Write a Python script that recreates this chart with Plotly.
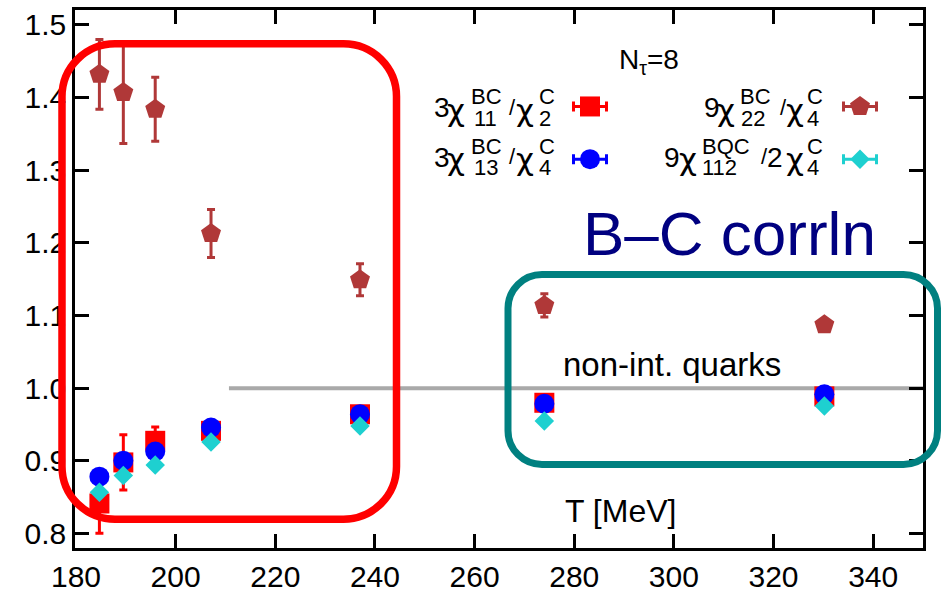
import plotly.graph_objects as go

# ---------------- data ----------------
T = [184.7, 189.5, 195.9, 207.1, 237.0, 274.0, 330.2]

r11_2 = [0.8415, 0.898, 0.9277, 0.9414, 0.9642, 0.980, 0.9888]      # 3chi11BC/chi2C
r11_2_err = [0.041, 0.038, 0.019, 0.008, 0.005, 0.004, 0.003]

r13_4 = [0.8784, 0.9003, 0.9130, 0.9459, 0.9642, 0.9787, 0.9916]    # 3chi13BC/chi4C
r13_4_err = [0.005, 0.005, 0.005, 0.004, 0.004, 0.003, 0.003]

r22_4 = [1.4316, 1.4066, 1.3837, 1.2127, 1.1493, 1.1138, 1.0874]    # 9chi22BC/chi4C
r22_4_err = [0.048, 0.070, 0.044, 0.033, 0.022, 0.016, 0.006]

r112_4 = [0.857, 0.880, 0.8945, 0.926, 0.948, 0.955, 0.9756]        # 9chi112BQC/2chi4C
r112_4_err = [0.005, 0.005, 0.004, 0.004, 0.004, 0.003, 0.003]

NONINT_T = [210.7, 350.0]
NONINT_Y = [1.0, 1.0]

X_TICKS = [180, 200, 220, 240, 260, 280, 300, 320, 340]
Y_TICKS = [0.8, 0.9, 1.0, 1.1, 1.2, 1.3, 1.4, 1.5]

# ---------------- style / layout constants ----------------
W, H = 944, 604
ML, MR, MT, MB = 75, 21, 7, 56
PW, PH = W - ML - MR, H - MT - MB
FONT = "Liberation Sans, Arial, Helvetica, sans-serif"
CHI_FONT = "DejaVu Sans, Liberation Sans, sans-serif"

RED = "#ff0000"
BLUE = "#0000ff"
BROWN = "#b03838"
CYAN = "#1ed0d0"
TEAL = "#008080"
NAVY = "#000080"


def px(xp):
    return (xp - ML) / PW


def py(yp):
    return (H - MB - yp) / PH


fig = go.Figure()

fig.add_trace(go.Scatter(x=NONINT_T, y=NONINT_Y, mode="lines",
                         line=dict(color="#a9a9a9", width=4), showlegend=False))


def series(y, err, color, symbol, size):
    return go.Scatter(
        x=T, y=y, mode="markers", showlegend=False,
        marker=dict(symbol=symbol, size=size, color=color, line=dict(width=0)),
        error_y=dict(type="data", array=err, visible=True, color=color,
                     thickness=3, width=4),
    )


fig.add_trace(series(r11_2, r11_2_err, RED, "square", 20))
fig.add_trace(series(r13_4, r13_4_err, BLUE, "circle", 20))
fig.add_trace(series(r22_4, r22_4_err, BROWN, "pentagon", 21))
fig.add_trace(series(r112_4, r112_4_err, CYAN, "diamond", 15))

# ---------------- legend keys (on a pixel overlay axis) ----------------
KEYS = [
    (590, 104, RED, "square", 20),
    (590, 157, BLUE, "circle", 20),
    (860, 104, BROWN, "pentagon", 21),
    (860, 157, CYAN, "diamond", 15),
]
for kx, ky, c, sym, sz in KEYS:
    fig.add_trace(go.Scatter(
        x=[kx], y=[ky], xaxis="x2", yaxis="y2", mode="markers", showlegend=False,
        cliponaxis=False,
        marker=dict(symbol=sym, size=sz, color=c, line=dict(width=0)),
        error_x=dict(type="constant", value=16.5, color=c, thickness=3, width=5),
    ))

# ---------------- rounded boxes ----------------
K = 0.5523


def rounded(x0, y0, x1, y1, r):
    def P(a, b):
        return f"{px(a):.5f},{py(b):.5f}"
    k = K * r
    return (f"M {P(x0 + r, y0)} L {P(x1 - r, y0)} "
            f"C {P(x1 - r + k, y0)} {P(x1, y0 + r - k)} {P(x1, y0 + r)} "
            f"L {P(x1, y1 - r)} "
            f"C {P(x1, y1 - r + k)} {P(x1 - r + k, y1)} {P(x1 - r, y1)} "
            f"L {P(x0 + r, y1)} "
            f"C {P(x0 + r - k, y1)} {P(x0, y1 - r + k)} {P(x0, y1 - r)} "
            f"L {P(x0, y0 + r)} "
            f"C {P(x0, y0 + r - k)} {P(x0 + r - k, y0)} {P(x0 + r, y0)} Z")


shapes = [
    dict(type="path", xref="paper", yref="paper", path=rounded(62, 41, 396.5, 519, 53),
         line=dict(color=RED, width=7.5), layer="above"),
    dict(type="path", xref="paper", yref="paper", path=rounded(508, 273, 937.5, 464, 34),
         line=dict(color=TEAL, width=7), layer="above"),
]

# ---------------- text ----------------
annotations = []


def txt(s, x_left, baseline, size, color="black", anchor="left", family=FONT, asc=0.905):
    top = baseline - asc * size
    annotations.append(dict(
        text=s, xref="paper", yref="paper", x=px(x_left), y=py(top),
        xanchor=anchor, yanchor="top", showarrow=False, borderpad=0, borderwidth=0,
        font=dict(family=family, size=size, color=color),
    ))


MAIN, SMALL = 28, 22


def label(pieces, B):
    for s, xl, role in pieces:
        if role == "main":
            txt(s, xl - 1.5, B, MAIN)
        elif role == "chi":
            txt(s, xl - 1.0, B + 3, 31, family=CHI_FONT, asc=0.928)
        elif role == "sup":
            txt(s, xl - 1.5, B - 13.3, SMALL)
        elif role == "sub":
            txt(s, xl - 1.5, B + 8, SMALL)
        elif role == "slash":
            txt(s, xl - 0.5, B - 3, SMALL)


label([("3", 435, "main"), ("χ", 448, "chi"), ("BC", 472, "sup"), ("11", 475, "sub"),
       ("/", 509, "slash"), ("χ", 516.7, "chi"), ("C", 540, "sup"), ("2", 540, "sub")], 115)
label([("3", 435, "main"), ("χ", 448, "chi"), ("BC", 472, "sup"), ("13", 475, "sub"),
       ("/", 509, "slash"), ("χ", 516.7, "chi"), ("C", 540, "sup"), ("4", 540, "sub")], 165)
label([("9", 705, "main"), ("χ", 718.3, "chi"), ("BC", 741.7, "sup"), ("22", 742, "sub"),
       ("/", 780, "slash"), ("χ", 786.7, "chi"), ("C", 808, "sup"), ("4", 808, "sub")], 115)
label([("9", 665, "main"), ("χ", 680, "chi"), ("BQC", 703, "sup"), ("112", 703, "sub"),
       ("/", 761.7, "slash"), ("2", 768.3, "main"), ("χ", 786.7, "chi"),
       ("C", 808, "sup"), ("4", 808, "sub")], 165)

txt("N<sub>τ</sub>=8", 648.5, 67, MAIN, anchor="center")
txt("B–C corrln", 876, 253, 62, color=NAVY, anchor="right")
txt("non-int. quarks", 563, 375, 33)
txt("T [MeV]", 565, 522, 32)

axis_common = dict(
    showgrid=False, zeroline=False, showline=True, linecolor="black", linewidth=2.5,
    mirror="ticks", ticks="inside", ticklen=14, tickwidth=2.5, tickcolor="black",
    tickfont=dict(family=FONT, size=30, color="black"),
)

fig.update_layout(
    width=W, height=H, autosize=False,
    margin=dict(l=ML, r=MR, t=MT, b=MB, pad=0),
    paper_bgcolor="white", plot_bgcolor="white",
    showlegend=False,
    xaxis=dict(range=[179.8, 350], tickvals=X_TICKS, **axis_common),
    yaxis=dict(range=[0.7803, 1.5201], tickvals=Y_TICKS,
               ticktext=[f"{v:.1f}" for v in Y_TICKS], **axis_common),
    xaxis2=dict(range=[ML, W - MR], overlaying="x", visible=False, fixedrange=True),
    yaxis2=dict(range=[H - MB, MT], overlaying="y", visible=False, fixedrange=True),
    shapes=shapes,
    annotations=annotations,
)

fig.write_html("out.html")
